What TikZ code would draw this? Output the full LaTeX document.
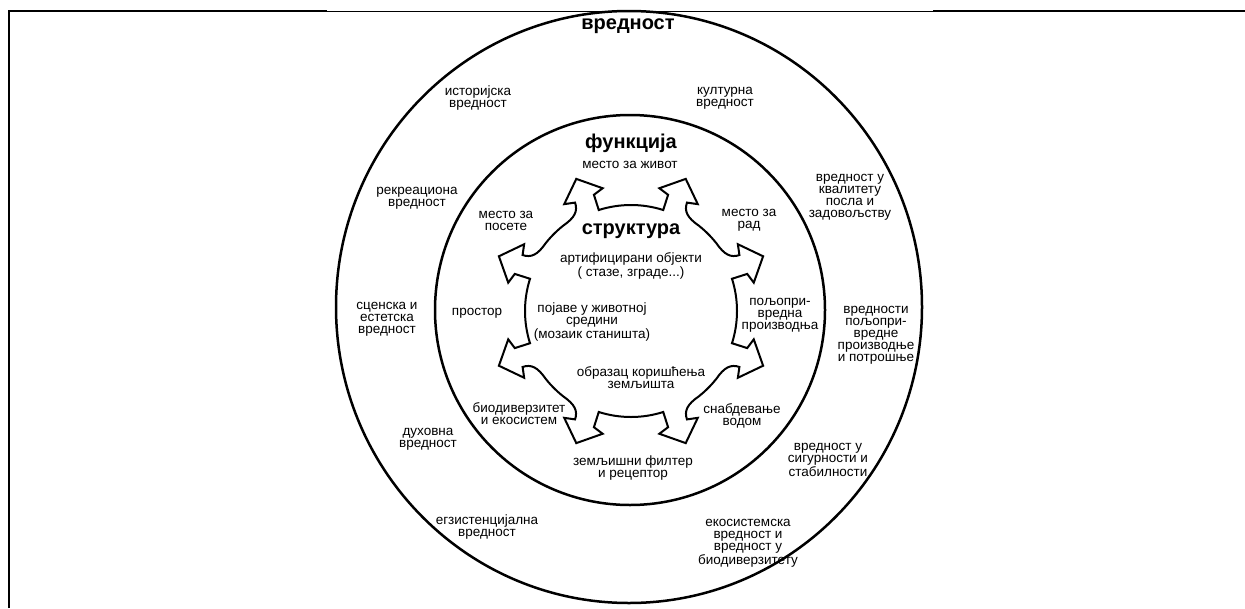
\documentclass[tikz,border=0pt]{standalone}
\usepackage{fontspec}
\setmainfont{Liberation Sans}
\begin{document}
\begin{tikzpicture}[x=1pt,y=-1pt,
  lbl/.style={align=center,font=\fontsize{13.5}{12}\selectfont,inner sep=0pt},
  ttl/.style={font=\fontsize{20}{22}\selectfont\bfseries,inner sep=0pt},
  ring/.style={line width=2.5pt},
  arr/.style={line width=2pt,line join=miter,miter limit=4},
  frm/.style={line width=2pt},
  thin/.style={line width=1pt}]
\useasboundingbox (0,0) rectangle (1245,608);
% frame
\draw[frm] (8.5,608) -- (8.5,11) -- (327,11);
\draw[thin] (327,11) -- (933,11);
\draw[frm] (933,11) -- (1245,11);
% circles
\draw[ring] (629,307) ellipse [x radius=293, y radius=296];
\draw[ring] (630,310) circle [radius=195];
% arrow ring
\begin{scope}[shift={(631,311)}]
\foreach \q in {0,90,180,270}{
\draw[arr] (\q:106) arc[start angle=\q, end angle={\q+17.7}, radius=106]
  -- ({\q+17.7}:122) -- ({\q+13}:126) -- ({\q+22.5}:143) -- ({\q+32}:126) -- ({\q+27.3}:122)
  .. controls ({\q+28}:113) and ({\q+31}:109) .. ({\q+38.5}:109)
  arc[start angle={\q+38.5}, end angle={\q+51.5}, radius=109]
  .. controls ({\q+59}:109) and ({\q+62}:113) .. ({\q+62.7}:122)
  -- ({\q+58}:126) -- ({\q+67.5}:143) -- ({\q+77}:126) -- ({\q+72.3}:122) -- ({\q+72.3}:106)
  arc[start angle={\q+72.3}, end angle={\q+90}, radius=106];
}
\end{scope}
% titles
\node[ttl] (vrednost) at (628,26) {вредност};
\node[ttl] (funkcija) at (631,143) {функција};
\node[ttl] (struktura) at (631,231) {структура};
% value ring
\node[lbl] (ist) at (478,98) {историјска\\вредност};
\node[lbl] (kult) at (725,98) {културна\\вредност};
\node[lbl] (rekr) at (417,198) {рекреациона\\вредност};
\node[lbl] (kval) at (850,197) {вредност у\\квалитету\\посла и\\задовољству};
\node[lbl] (scen) at (387,319) {сценска и\\естетска\\вредност};
\node[lbl] (polj) at (876,335) {вредности\\пољопри-\\вредне\\производње\\и потрошње};
\node[lbl] (duh) at (428,439) {духовна\\вредност};
\node[lbl] (sig) at (828,460) {вредност у\\сигурности и\\стабилности};
\node[lbl] (egz) at (487,527) {егзистенцијална\\вредност};
\node[lbl] (eko) at (748,543) {екосистемска\\вредност и\\вредност у\\биодиверзитету};
% function ring
\node[lbl] (zivot) at (630,165) {место за живот};
\node[lbl] (posete) at (506,221) {место за\\посете};
\node[lbl] (rad) at (749,220) {место за\\рад};
\node[lbl] (prostor) at (477,313) {простор};
\node[lbl] (proizv) at (780,315) {пољопри-\\вредна\\производња};
\node[lbl] (biodiv) at (519,414) {биодиверзитет\\и екосистем};
\node[lbl] (voda) at (742,416) {снабдевање\\водом};
\node[lbl] (filter) at (633,468) {земљишни филтер\\и рецептор};
% structure
\node[lbl] (artif) at (631,266) {артифицирани објекти\\( стазе, зграде...)};
\node[lbl] (pojave) at (592,322) {појаве у животној\\средини\\(мозаик станишта)};
\node[lbl] (obrazac) at (641,378) {образац коришћења\\земљишта};
\end{tikzpicture}
\end{document}
